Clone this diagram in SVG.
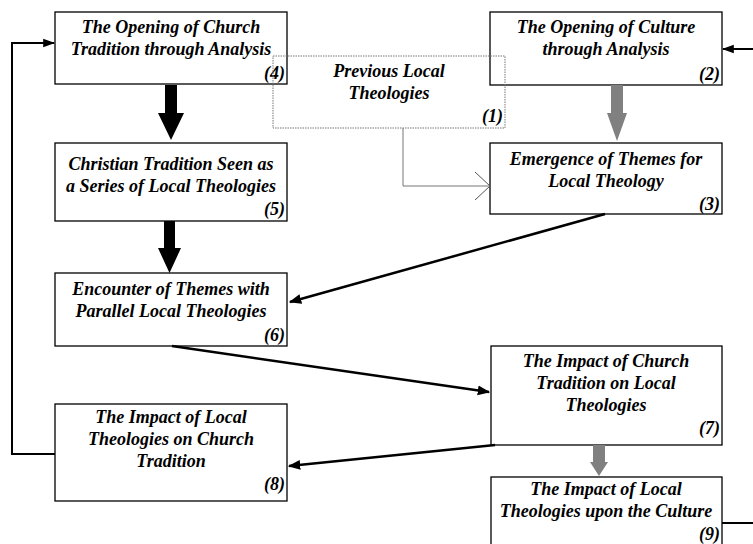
<svg xmlns="http://www.w3.org/2000/svg" width="753" height="544" viewBox="0 0 753 544">
<defs>
<style>
.box{fill:#fff;stroke:#000;stroke-width:1.3}
.dot{fill:none;stroke:#777;stroke-width:1;stroke-dasharray:1.5 1}
.t text{font-weight:bold;font-style:italic;font-size:18px;fill:#000}
.c{text-anchor:middle}
.n{text-anchor:end}
.ln{fill:none;stroke:#000;stroke-width:2.5}
.fb{fill:none;stroke:#000;stroke-width:2}
</style>
<marker id="ah" viewBox="0 0 10 10" refX="9" refY="5" markerWidth="5" markerHeight="5" orient="auto" markerUnits="strokeWidth">
<path d="M0,1 L10,5 L0,9 Z" fill="#000"/>
</marker>
<marker id="ah2" viewBox="0 0 10 10" refX="9" refY="5" markerWidth="6" markerHeight="6" orient="auto" markerUnits="strokeWidth">
<path d="M0,1.5 L10,5 L0,8.5 Z" fill="#000"/>
</marker>
</defs>
<g class="t" font-family="Liberation Serif, Times New Roman, serif">
<g id="node4"><rect class="box" x="55" y="12" width="232" height="72"/>
<text class="c" x="171" y="33">The Opening of Church</text>
<text class="c" x="171" y="55">Tradition through Analysis</text>
<text class="n" x="285" y="79">(4)</text></g>
<g id="node2"><rect class="box" x="490" y="12" width="232" height="73"/>
<text class="c" x="606" y="33">The Opening of Culture</text>
<text class="c" x="606" y="55">through Analysis</text>
<text class="n" x="720" y="80">(2)</text></g>
<g id="node1"><rect class="dot" x="273" y="56" width="232" height="72"/>
<text class="c" x="389" y="77">Previous Local</text>
<text class="c" x="389" y="99">Theologies</text>
<text class="n" x="503" y="122">(1)</text></g>
<g id="node5"><rect class="box" x="55" y="143" width="232" height="78"/>
<text class="c" x="171" y="170">Christian Tradition Seen as</text>
<text class="c" x="171" y="192">a Series of Local Theologies</text>
<text class="n" x="285" y="215">(5)</text></g>
<g id="node3"><rect class="box" x="490" y="143" width="232" height="71"/>
<text class="c" x="606" y="165">Emergence of Themes for</text>
<text class="c" x="606" y="187">Local Theology</text>
<text class="n" x="720" y="210">(3)</text></g>
<g id="node6"><rect class="box" x="55" y="273" width="232" height="73"/>
<text class="c" x="171" y="295">Encounter of Themes with</text>
<text class="c" x="171" y="317">Parallel Local Theologies</text>
<text class="n" x="285" y="341">(6)</text></g>
<g id="node7"><rect class="box" x="491" y="346" width="231" height="99"/>
<text class="c" x="606" y="367">The Impact of Church</text>
<text class="c" x="606" y="389">Tradition on Local</text>
<text class="c" x="606" y="411">Theologies</text>
<text class="n" x="720" y="434">(7)</text></g>
<g id="node8"><rect class="box" x="55" y="404" width="232" height="97"/>
<text class="c" x="171" y="423">The Impact of Local</text>
<text class="c" x="171" y="445">Theologies on Church</text>
<text class="c" x="171" y="467">Tradition</text>
<text class="n" x="285" y="490">(8)</text></g>
<g id="node9"><rect class="box" x="491" y="477" width="231" height="80"/>
<text class="c" x="606" y="495">The Impact of Local</text>
<text class="c" x="606" y="517">Theologies upon the Culture</text>
<text class="n" x="720" y="540">(9)</text></g>
</g>
<g id="connectors">
<polygon points="165,85 177,85 177,113 184,113 171,140 158,113 165,113" fill="#000"/>
<polygon points="164,221 175,221 175,248 181,248 169.5,273 158,248 164,248" fill="#000"/>
<polygon points="611,85 623,85 623,113 627,113 617,141 607,113 611,113" fill="#808080"/>
<polygon points="593,445 605,445 605,462 608,462 599,476 590,462 593,462" fill="#808080"/>
<path d="M403,128 V186 H489" fill="none" stroke="#777" stroke-width="1"/>
<path d="M475,172 L490,186 L475,200" fill="none" stroke="#555" stroke-width="1"/>
<line class="ln" x1="605" y1="214" x2="290" y2="302" marker-end="url(#ah)"/>
<line class="ln" x1="172" y1="346" x2="489" y2="392" marker-end="url(#ah)"/>
<line class="ln" x1="495" y1="445" x2="289" y2="466" marker-end="url(#ah)"/>
<path class="fb" d="M55,454 H12 V43 H54" marker-end="url(#ah2)"/>
<path class="fb" d="M722,523 H765 V49 H723" marker-end="url(#ah2)"/>
</g>
</svg>
